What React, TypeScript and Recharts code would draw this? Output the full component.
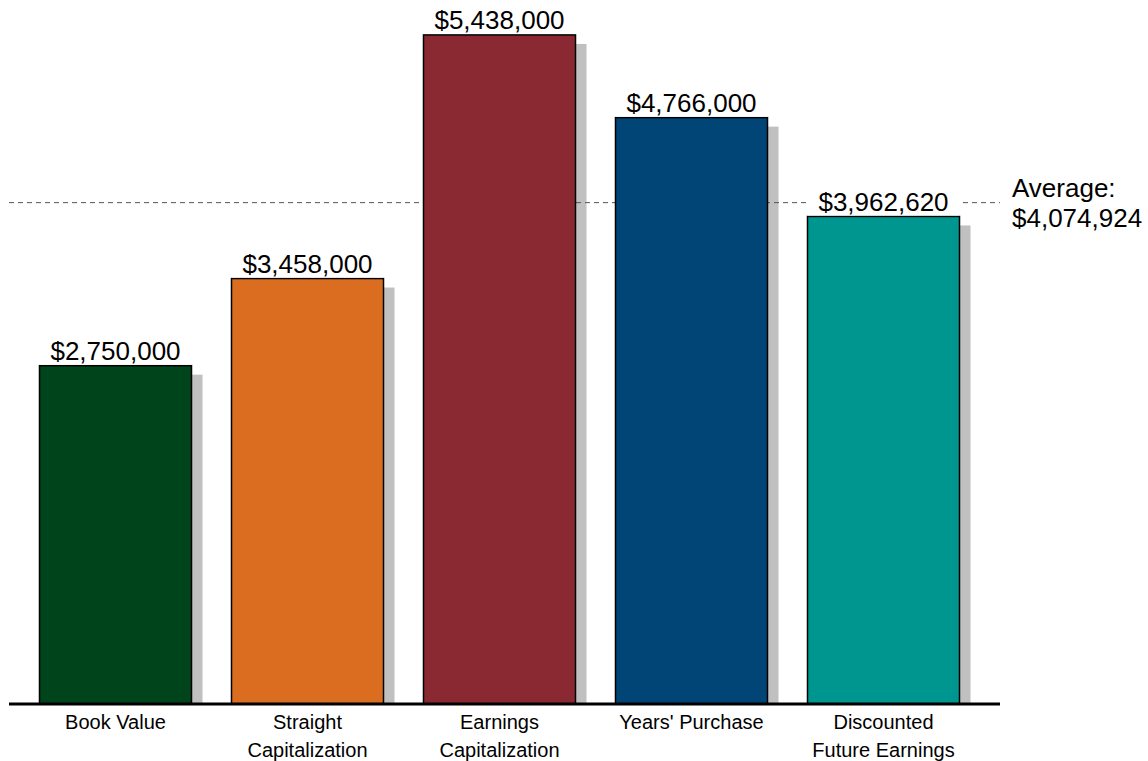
import React from "react";
import { BarChart, Bar, XAxis, YAxis, ReferenceLine, LabelList, Cell } from "recharts";

const categories = [
  "Book Value",
  "Straight\nCapitalization",
  "Earnings\nCapitalization",
  "Years' Purchase",
  "Discounted\nFuture Earnings",
];
const values = [2750000, 3458000, 5438000, 4766000, 3962620];
const barColors = ["#00441c", "#da6d1f", "#8a2932", "#004576", "#009690"];

const average = values.reduce((s, v) => s + v, 0) / values.length;

const data = categories.map((name, i) => ({ name, value: values[i] }));

const FONT = "'Liberation Sans', Arial, sans-serif";
const BAR = 152;

const money = (v: number) => "$" + Math.round(v).toLocaleString("en-US");

// grey drop shadow, drawn as its own series under the average line
function ShadowShape(props: any) {
  const { x, y, width, height } = props;
  if (!height || height <= 9) return null;
  return <rect x={x + 11} y={y + 9} width={width} height={height - 9} fill="#c0c0c0" />;
}

function MainShape(props: any) {
  const { x, y, width, height, fill } = props;
  if (!height || height <= 0) return null;
  return <rect x={x} y={y} width={width} height={height} fill={fill} stroke="#000" strokeWidth={1.5} />;
}

// value label with a white box that hides the average line behind it
function ValueLabel(props: any) {
  const { x, y, width, value } = props;
  return (
    <g>
      <rect x={x} y={y - 29} width={width} height={28} fill="#fff" />
      <text x={x + width / 2} y={y - 5.5} textAnchor="middle" fontFamily={FONT} fontSize={26} fill="#000">
        {money(Number(value))}
      </text>
    </g>
  );
}

function CategoryTick(props: any) {
  const { x, y, payload } = props;
  const lines = String(payload.value).split("\n");
  return (
    <text x={x} y={y} textAnchor="middle" fontFamily={FONT} fontSize={20} fill="#000">
      {lines.map((l, i) => (
        <tspan key={i} x={x} dy={i === 0 ? 17.3 : 27.4}>
          {l}
        </tspan>
      ))}
    </text>
  );
}

function AverageLabel(props: any) {
  const { viewBox } = props;
  const x = viewBox.x + viewBox.width + 12;
  const y = viewBox.y;
  return (
    <text x={x} y={y} fontFamily={FONT} fontSize={26} fill="#000">
      <tspan x={x} dy={-5.5}>Average:</tspan>
      <tspan x={x} dy={30}>{money(average)}</tspan>
    </text>
  );
}

export default function App() {
  return (
    <div style={{ position: "absolute", left: 0, top: 0, width: 1148, height: 761, background: "#fff" }}>
      <BarChart
        width={1148}
        height={761}
        data={data}
        barGap={-BAR}
        margin={{ top: 15, right: 148, bottom: 7, left: 9 }}
      >
        <YAxis hide domain={[0, 5600000]} />

        <Bar dataKey="value" barSize={BAR} shape={<ShadowShape />} zIndex={100} isAnimationActive={false} />

        <ReferenceLine
          y={average}
          stroke="#555"
          strokeWidth={1}
          strokeDasharray="5 4"
          zIndex={150}
          label={<AverageLabel />}
        />

        <Bar dataKey="value" barSize={BAR} shape={<MainShape />} zIndex={300} isAnimationActive={false}>
          {data.map((d, i) => (
            <Cell key={d.name} fill={barColors[i]} />
          ))}
          <LabelList dataKey="value" position="top" content={<ValueLabel />} />
        </Bar>

        <XAxis
          dataKey="name"
          height={50}
          padding={{ left: 10.5, right: 20.5 }}
          axisLine={{ stroke: "#000", strokeWidth: 3 }}
          tickLine={false}
          interval={0}
          tick={<CategoryTick />}
        />
      </BarChart>
    </div>
  );
}
